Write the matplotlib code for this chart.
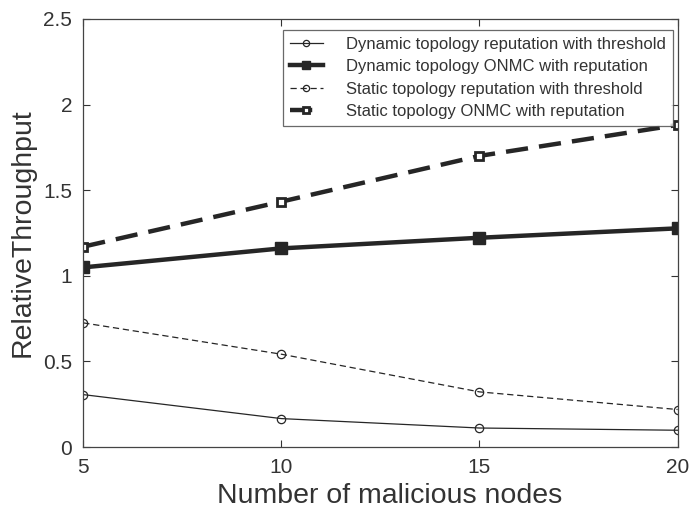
import matplotlib
matplotlib.use("Agg")
import matplotlib.pyplot as plt

x = [5, 10, 15, 20]
dyn_rep = [0.306, 0.166, 0.111, 0.098]
dyn_onmc = [1.049, 1.160, 1.222, 1.277]
sta_rep = [0.725, 0.542, 0.322, 0.219]
sta_onmc = [1.170, 1.433, 1.700, 1.881]
labels = ["Dynamic topology reputation with threshold",
          "Dynamic topology ONMC with reputation",
          "Static topology reputation with threshold",
          "Static topology ONMC with reputation"]

plt.rcParams['font.family'] = ['Liberation Sans', 'DejaVu Sans']
fig = plt.figure(figsize=(6.9, 5.11), dpi=100)
ax = fig.add_axes([0.1207, 0.1252, 0.982 - 0.1207, 0.963 - 0.1252])
c = '#262626'
ax.plot(x, dyn_rep, '-', color=c, lw=0.9, marker='o', ms=6, mfc='none', mec=c, mew=0.9, label=labels[0])
ax.plot(x, dyn_onmc, '-', color=c, lw=3.2, marker='s', ms=8, mfc=c, mec=c, label=labels[1])
ax.plot(x, sta_rep, '--', color=c, lw=0.9, marker='o', ms=6, mfc='none', mec=c, mew=0.9, label=labels[2], dashes=(5, 3))
ax.plot(x, sta_onmc, '--', color=c, lw=3.2, marker='s', ms=6, mfc='white', mec=c, mew=2.0, label=labels[3], dashes=(5, 2.5))

ax.set_xlim(5, 20)
ax.set_ylim(0, 2.5)
ax.set_xticks([5, 10, 15, 20])
ax.set_yticks([0, 0.5, 1, 1.5, 2, 2.5])
ax.set_yticklabels(['0', '0.5', '1', '1.5', '2', '2.5'])
ax.tick_params(direction='in', top=True, right=True, labelsize=15, colors='#333333', length=5, pad=8)
for s in ax.spines.values():
    s.set_color('#444444')
    s.set_linewidth(0.9)
ax.set_xlabel('Number of malicious nodes', fontsize=20.5, color='#333333', labelpad=4)
ax.set_ylabel('RelativeThroughput', fontsize=20.5, color='#333333', labelpad=5)
ax.xaxis.set_label_coords(0.516, -0.085)

leg = ax.legend(loc='upper right', bbox_to_anchor=(0.992, 0.974), fontsize=12, frameon=True,
                fancybox=False, edgecolor='#444444', borderpad=0.4, labelspacing=0.45,
                handlelength=2.0, handletextpad=1.4, borderaxespad=0, markerscale=0.75)
leg.get_frame().set_linewidth(0.9)
for t in leg.get_texts():
    t.set_color('#333333')

fig.savefig('out.png', dpi=100)
